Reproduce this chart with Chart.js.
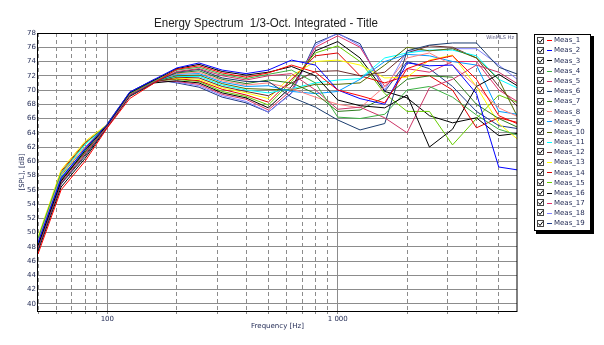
<!DOCTYPE html>
<html>
<head>
<meta charset="utf-8">
<script src="https://cdn.jsdelivr.net/npm/chart.js@4.4.0/dist/chart.umd.min.js"></script>
<style>
  html, body { margin: 0; padding: 0; background: #fff; }
  #wrap { width: 604px; height: 345px; }
</style>
</head>
<body>
<div id="wrap"><canvas id="spectrum" width="604" height="345"></canvas></div>
<script>
// 1/3 octave band centres
const freqs = [50, 63, 80, 100, 125, 160, 200, 250, 315, 400, 500, 630, 800, 1000, 1250, 1600, 2000, 2500, 3150, 4000, 5000, 6300];

// SPL per measurement [dB]
const meas1  = [47.0, 56.0, 60.0, 64.7, 68.8, 71.0, 72.9, 73.4, 72.4, 71.8, 72.4, 73.5, 72.5, 70.0, 69.2, 68.2, 73.0, 74.1, 74.8, 71.5, 66.4, 65.0];
const meas2  = [48.6, 57.6, 61.8, 65.2, 69.7, 71.5, 73.1, 73.8, 72.8, 72.3, 72.8, 74.2, 73.5, 70.0, 68.8, 68.0, 73.8, 73.4, 73.5, 69.5, 59.2, 58.7];
const meas3  = [48.2, 57.2, 61.5, 65.1, 69.6, 71.4, 73.0, 73.6, 72.6, 72.1, 72.5, 73.3, 72.0, 68.6, 67.8, 67.5, 69.3, 62.0, 64.5, 70.5, 72.2, 70.2];
const meas4  = [49.2, 58.4, 62.5, 65.1, 69.5, 71.3, 72.8, 73.2, 72.2, 71.6, 72.2, 72.8, 71.0, 66.2, 66.0, 66.6, 70.0, 70.5, 69.0, 66.5, 64.5, 63.5];
const meas5  = [47.9, 57.0, 61.1, 64.9, 69.3, 71.2, 72.6, 73.0, 72.0, 71.4, 72.0, 72.3, 70.0, 67.3, 67.6, 66.1, 64.0, 70.3, 71.5, 73.5, 72.5, 70.5];
const meas6  = [47.6, 56.8, 60.7, 64.8, 69.2, 71.1, 72.5, 72.9, 71.7, 71.2, 71.2, 69.0, 67.6, 65.8, 64.4, 65.3, 75.5, 76.3, 76.6, 76.6, 73.2, 72.0];
const meas7  = [48.0, 57.3, 61.2, 64.9, 69.3, 71.2, 72.4, 72.7, 71.5, 70.9, 71.4, 71.0, 69.5, 67.0, 67.2, 69.0, 71.5, 72.0, 71.8, 68.0, 66.0, 64.5];
const meas8  = [48.8, 58.2, 62.0, 65.0, 69.4, 71.3, 72.3, 72.5, 71.3, 70.7, 71.0, 70.2, 69.0, 68.0, 67.5, 70.5, 74.5, 75.2, 73.5, 70.5, 67.5, 66.0];
const meas9  = [48.4, 57.8, 61.6, 65.0, 69.4, 71.2, 72.2, 72.3, 71.1, 70.5, 70.6, 69.8, 69.5, 69.8, 71.5, 74.0, 75.0, 74.8, 74.0, 73.5, 67.0, 66.5];
const meas10 = [48.1, 57.4, 61.3, 64.9, 69.3, 71.2, 72.0, 72.1, 70.9, 70.2, 70.1, 70.0, 70.8, 70.8, 71.0, 73.5, 76.0, 75.5, 75.8, 74.5, 71.5, 65.0];
const meas11 = [48.9, 58.3, 62.3, 65.1, 69.5, 71.3, 71.9, 71.9, 70.7, 70.0, 69.6, 70.2, 71.0, 71.4, 71.6, 74.5, 75.2, 75.6, 75.6, 74.8, 71.5, 70.0];
const meas12 = [47.8, 56.9, 60.9, 64.8, 69.2, 71.1, 71.8, 71.7, 70.5, 69.8, 69.2, 71.0, 72.6, 72.7, 72.0, 72.5, 75.2, 76.2, 76.0, 74.5, 70.5, 67.0];
const meas13 = [49.4, 58.8, 62.8, 65.2, 69.6, 71.4, 71.7, 71.5, 70.3, 69.6, 68.8, 72.0, 74.0, 74.2, 73.5, 71.7, 71.8, 74.2, 74.9, 70.5, 65.3, 62.6];
const meas14 = [49.1, 58.6, 62.6, 65.1, 69.5, 71.3, 71.6, 71.3, 70.1, 69.3, 68.3, 71.5, 74.8, 75.2, 72.0, 71.0, 72.0, 72.0, 70.0, 64.7, 66.1, 65.3];
const meas15 = [48.7, 58.0, 62.0, 65.0, 69.4, 71.3, 71.5, 71.2, 69.8, 69.1, 67.9, 71.2, 75.2, 76.2, 74.0, 69.5, 67.0, 67.0, 62.3, 66.0, 69.3, 68.0];
const meas16 = [47.4, 56.4, 60.4, 64.8, 69.1, 71.0, 71.3, 71.0, 69.6, 68.9, 67.5, 70.5, 75.5, 76.8, 74.5, 69.8, 68.9, 66.4, 65.4, 66.1, 63.6, 64.0];
const meas17 = [48.3, 57.6, 61.7, 65.0, 69.4, 71.3, 71.2, 70.8, 69.4, 68.7, 67.2, 70.0, 76.0, 77.6, 76.0, 70.5, 73.0, 72.5, 74.0, 74.0, 70.0, 68.0];
const meas18 = [48.5, 57.5, 61.6, 65.2, 69.6, 71.4, 71.1, 70.6, 69.2, 68.4, 66.9, 69.5, 76.3, 78.0, 76.2, 70.0, 75.5, 75.5, 75.8, 75.8, 73.5, 71.0];
const meas19 = [48.4, 57.4, 61.7, 65.3, 69.7, 71.5, 71.0, 70.4, 69.0, 68.2, 66.9, 69.6, 76.6, 77.9, 76.5, 69.8, 74.0, 73.0, 70.5, 67.0, 65.0, 64.5];

const seriesNames = ['Meas_1', 'Meas_2', 'Meas_3', 'Meas_4', 'Meas_5', 'Meas_6', 'Meas_7', 'Meas_8', 'Meas_9', 'Meas_10',
                     'Meas_11', 'Meas_12', 'Meas_13', 'Meas_14', 'Meas_15', 'Meas_16', 'Meas_17', 'Meas_18', 'Meas_19'];
const seriesValues = [meas1, meas2, meas3, meas4, meas5, meas6, meas7, meas8, meas9, meas10,
                      meas11, meas12, meas13, meas14, meas15, meas16, meas17, meas18, meas19];

// axis ticks / grid
const xGrid = [50, 60, 70, 80, 90, 100, 200, 300, 400, 500, 600, 700, 800, 900, 1000, 2000, 3000, 4000, 5000];
const xLabels = { 100: '100', 1000: '1 000' };
const yTicks = [40, 42, 44, 46, 48, 50, 52, 54, 56, 58, 60, 62, 64, 66, 68, 70, 72, 74, 76, 78];

const colors = ['#ff0000', '#0000ff', '#000000', '#3cb043', '#cc3366', '#1a3c6e', '#2e7d1e', '#ff8080', '#0099ff', '#556b00',
                '#00ffff', '#6b2b2b', '#ffff00', '#e00000', '#66cc00', '#000000', '#e0306a', '#8080ff', '#1f3c88'];

const navy = '#1c2550';

// title, frame, checkbox legend
const decor = {
  id: 'decor',
  afterDraw(chart) {
    const ctx = chart.ctx, a = chart.chartArea;
    ctx.save();
    ctx.strokeStyle = '#000';
    ctx.lineWidth = 1;
    ctx.strokeRect(a.left - 0.5, a.top + 0.5, a.right - a.left + 0.5, a.bottom - a.top);

    ctx.fillStyle = '#222';
    ctx.font = '12px "Liberation Sans"';
    ctx.textAlign = 'center';
    ctx.textBaseline = 'alphabetic';
    ctx.fillText('Energy Spectrum  1/3-Oct. Integrated - Title', 266, 27, 224);

    ctx.fillStyle = '#50507a';
    ctx.font = '5px "DejaVu Sans"';
    ctx.textAlign = 'right';
    ctx.fillText('WinMLS Hz', a.right - 3, a.top + 6);

    // legend box
    const bx = 534, by = 34, bw = 57, bh = 197;
    ctx.fillStyle = '#000';
    ctx.fillRect(bx + 2, by + 2, bw + 1, bh + 1);
    ctx.fillStyle = '#fff';
    ctx.fillRect(bx, by, bw, bh);
    ctx.strokeStyle = '#000';
    ctx.strokeRect(bx + 0.5, by + 0.5, bw - 1, bh - 1);

    ctx.textAlign = 'left';
    ctx.textBaseline = 'middle';
    ctx.font = '7px "DejaVu Sans"';
    seriesNames.forEach((name, i) => {
      const cy = 40 + i * 10.17;
      const y0 = Math.round(cy - 3.5);
      ctx.fillStyle = '#fff';
      ctx.fillRect(537, y0, 7, 7);
      ctx.strokeStyle = '#444';
      ctx.strokeRect(537.5, y0 + 0.5, 6, 6);
      ctx.beginPath();
      ctx.moveTo(538.5, y0 + 3.5);
      ctx.lineTo(540, y0 + 5.5);
      ctx.lineTo(543, y0 + 1.5);
      ctx.strokeStyle = '#000';
      ctx.stroke();
      ctx.beginPath();
      ctx.moveTo(547, Math.round(cy) + 0.5);
      ctx.lineTo(552, Math.round(cy) + 0.5);
      ctx.strokeStyle = colors[i];
      ctx.stroke();
      ctx.fillStyle = navy;
      ctx.fillText(name, 554, cy + 0.5);
    });
    ctx.restore();
  }
};

const datasets = seriesValues.map((vals, i) => ({
  label: seriesNames[i],
  data: freqs.map((f, j) => ({ x: f, y: vals[j] })),
  borderColor: colors[i],
  backgroundColor: colors[i],
  borderWidth: 1,
  pointRadius: 0,
  tension: 0,
  fill: false
}));

new Chart(document.getElementById('spectrum'), {
  type: 'line',
  data: { datasets: datasets },
  plugins: [decor],
  options: {
    responsive: false,
    animation: false,
    events: [],
    layout: { padding: { top: 33, right: 87, left: 0, bottom: 0 } },
    plugins: { legend: { display: false }, title: { display: false }, tooltip: { enabled: false } },
    scales: {
      x: {
        type: 'logarithmic',
        min: 50,
        max: 6000,
        afterFit: s => { s.height = 34; },
        afterBuildTicks: s => { s.ticks = xGrid.map(v => ({ value: v })); },
        grid: {
          color: '#8c8c8c',
          lineWidth: 1,
          tickLength: 3
        },
        border: {
          display: false,
          dash: c => (c.tick && (c.tick.value === 100 || c.tick.value === 1000)) ? [] : [4, 3]
        },
        ticks: {
          autoSkip: false,
          maxRotation: 0,
          padding: 1,
          color: navy,
          font: { family: 'DejaVu Sans', size: 7 },
          callback: v => xLabels[v] || ''
        },
        title: {
          display: true,
          text: 'Frequency [Hz]',
          color: navy,
          font: { family: 'DejaVu Sans', size: 7 },
          padding: { top: 0, bottom: 15 }
        }
      },
      y: {
        min: 39,
        max: 78,
        afterFit: s => { s.width = 38; },
        afterBuildTicks: s => { s.ticks = yTicks.map(v => ({ value: v })); },
        grid: { color: '#8c8c8c', lineWidth: 1, drawTicks: false },
        border: { display: false },
        ticks: {
          padding: 2,
          color: navy,
          font: { family: 'DejaVu Sans', size: 7 }
        },
        title: {
          display: true,
          text: '[SPL], [dB]',
          color: navy,
          font: { family: 'DejaVu Sans', size: 7 },
          padding: { top: 18, bottom: 0 }
        }
      }
    }
  }
});
</script>
</body>
</html>
